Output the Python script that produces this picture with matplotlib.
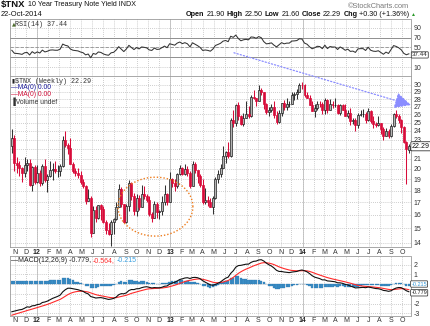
import datetime as dt
import numpy as np
import matplotlib
matplotlib.use("Agg")
import matplotlib.pyplot as plt
import matplotlib.dates as mdates

# ---------------- data (TNX = 10-year yield x 10), weekly bars ----------------
first_week = dt.date(2011, 10, 24)          # Monday of first visible weekly bar

opens = [22.3, 23.2, 20.6, 20.4, 20.1, 19.6, 20.4, 20.6, 18.5, 20.2,
         18.8, 19.6, 18.7, 20.3, 18.9, 19.3, 19.9, 20.0, 19.8, 19.8,
         20.3, 23.0, 22.4, 22.1, 20.5, 19.8, 19.6, 19.4, 18.8, 18.4,
         17.1, 17.4, 14.7, 16.4, 15.8, 16.8, 16.5, 15.5, 14.9, 14.6,
         15.5, 15.7, 16.6, 18.1, 16.9, 15.5, 16.7, 18.7, 17.5, 16.3,
         17.4, 16.6, 17.7, 17.5, 17.2, 16.1, 15.8, 16.9, 16.2, 16.3,
         17.0, 17.7, 17.0, 19.0, 18.7, 18.4, 19.5, 20.1, 19.5, 20.0,
         19.6, 18.4, 20.5, 19.9, 19.3, 18.5, 17.0, 17.2, 17.0, 16.6,
         17.4, 19.0, 19.5, 20.1, 21.3, 21.7, 21.3, 25.3, 24.9, 27.2,
         25.8, 24.8, 25.6, 26.0, 25.8, 28.3, 28.2, 27.8, 29.3, 28.9,
         27.3, 26.3, 26.5, 26.9, 25.9, 25.1, 26.2, 27.5, 27.0, 27.4,
         27.4, 28.6, 28.7, 28.9, 30.0, 29.9, 28.6, 28.2, 27.2, 26.4,
         26.8, 27.4, 27.3, 26.5, 27.9, 26.5, 27.4, 27.2, 27.2, 26.2,
         27.2, 26.6, 25.8, 26.2, 25.2, 25.3, 24.7, 25.9, 26.0, 26.0,
         25.3, 26.4, 25.2, 24.8, 24.7, 24.9, 24.2, 23.4, 24.0, 23.4,
         24.6, 26.1, 25.8, 25.3, 24.5, 22.8, 21.90]
highs = [24.2, 23.5, 21.2, 20.8, 20.2, 21.2, 21.0, 21.0, 20.3, 20.4,
         20.4, 19.9, 20.5, 21.0, 19.5, 20.8, 20.6, 20.8, 20.4, 20.5,
         23.4, 24.0, 22.7, 23.2, 20.7, 20.1, 20.1, 19.8, 19.0, 18.5,
         18.1, 17.5, 16.7, 16.7, 16.8, 16.9, 16.7, 15.6, 15.4, 15.6,
         15.8, 17.0, 18.6, 18.3, 16.9, 16.9, 18.9, 18.8, 17.8, 17.7,
         17.6, 18.5, 18.4, 17.7, 17.5, 16.2, 17.1, 17.0, 16.4, 17.5,
         18.5, 17.8, 19.7, 19.1, 19.0, 19.6, 20.4, 20.2, 20.5, 20.3,
         19.8, 20.8, 20.7, 19.9, 19.5, 19.0, 18.2, 17.5, 17.4, 17.5,
         19.2, 19.9, 20.5, 22.3, 21.8, 22.8, 25.5, 26.6, 27.4, 27.6,
         25.9, 26.2, 27.7, 27.1, 28.6, 29.3, 28.2, 30.0, 29.6, 28.9,
         27.5, 26.9, 27.4, 27.8, 26.4, 26.5, 27.5, 27.9, 28.2, 27.7,
         29.0, 29.0, 29.4, 30.3, 30.4, 30.1, 29.0, 28.6, 27.7, 27.4,
         27.7, 27.7, 27.6, 28.1, 28.0, 28.0, 27.8, 28.2, 27.4, 27.3,
         27.3, 27.3, 26.6, 26.8, 25.6, 25.5, 26.2, 26.6, 26.7, 26.3,
         26.8, 26.5, 25.8, 25.1, 25.8, 25.0, 24.5, 24.4, 24.2, 24.8,
         26.2, 26.5, 26.0, 25.4, 24.6, 22.9, 22.50]
lows = [21.6, 19.8, 19.6, 19.3, 18.8, 19.2, 19.8, 18.4, 18.0, 18.6,
        18.7, 18.4, 18.5, 18.8, 17.9, 19.2, 18.9, 19.6, 19.2, 19.3,
        20.2, 22.2, 21.5, 20.5, 19.6, 19.3, 19.1, 18.6, 18.2, 16.9,
        17.1, 14.4, 14.7, 15.5, 15.7, 15.6, 15.4, 14.6, 14.5, 13.8,
        14.6, 15.6, 16.6, 16.6, 15.4, 15.4, 16.3, 17.2, 16.0, 15.9,
        16.4, 16.6, 17.3, 17.0, 15.9, 15.5, 15.8, 15.8, 15.7, 16.0,
        16.8, 16.8, 17.0, 18.3, 18.0, 18.2, 19.4, 19.4, 19.4, 19.3,
        18.2, 18.4, 19.6, 18.7, 18.3, 16.9, 16.9, 16.7, 16.6, 16.1,
        17.3, 18.7, 19.2, 20.1, 20.6, 21.1, 21.2, 24.5, 24.6, 25.3,
        24.7, 24.6, 25.6, 25.6, 25.7, 28.0, 27.1, 27.7, 28.6, 26.7,
        26.0, 25.8, 26.3, 25.6, 24.8, 24.9, 25.8, 26.5, 26.5, 27.0,
        27.4, 27.9, 28.0, 28.9, 29.4, 28.3, 28.2, 27.2, 26.4, 25.7,
        26.6, 27.0, 26.1, 26.0, 26.2, 26.5, 26.8, 27.0, 26.1, 25.9,
        26.5, 25.8, 25.6, 24.7, 24.8, 24.0, 24.4, 25.8, 25.7, 25.0,
        25.2, 25.0, 24.4, 24.5, 24.6, 23.6, 23.0, 23.4, 23.2, 23.3,
        24.5, 25.5, 24.9, 23.8, 22.7, 18.6, 21.60]
closes = [23.2, 20.6, 20.4, 20.1, 19.6, 20.4, 20.6, 18.5, 20.2, 18.8,
          19.6, 18.7, 20.3, 18.9, 19.3, 19.9, 20.0, 19.8, 19.8, 20.3,
          23.0, 22.4, 22.1, 20.5, 19.8, 19.6, 19.4, 18.8, 18.4, 17.1,
          17.4, 14.7, 16.4, 15.8, 16.8, 16.5, 15.5, 14.9, 14.6, 15.5,
          15.7, 16.6, 18.1, 16.9, 15.5, 16.7, 18.7, 17.5, 16.3, 17.4,
          16.6, 17.7, 17.5, 17.2, 16.1, 15.8, 16.9, 16.2, 16.3, 17.0,
          17.7, 17.0, 19.0, 18.7, 18.4, 19.5, 20.1, 19.5, 20.0, 19.6,
          18.4, 20.5, 19.9, 19.3, 18.5, 17.0, 17.2, 17.0, 16.6, 17.4,
          19.0, 19.5, 20.1, 21.3, 21.7, 21.3, 25.3, 24.9, 27.2, 25.8,
          24.8, 25.6, 26.0, 25.8, 28.3, 28.2, 27.8, 29.3, 28.9, 27.3,
          26.3, 26.5, 26.9, 25.9, 25.1, 26.2, 27.5, 27.0, 27.4, 27.4,
          28.6, 28.7, 28.9, 30.0, 29.9, 28.6, 28.2, 27.2, 26.4, 26.8,
          27.4, 27.3, 26.5, 27.9, 26.5, 27.4, 27.2, 27.2, 26.2, 27.2,
          26.6, 25.8, 26.2, 25.2, 25.3, 24.7, 25.9, 26.0, 26.0, 25.3,
          26.4, 25.2, 24.8, 24.7, 24.9, 24.2, 23.4, 24.0, 23.4, 24.6,
          26.1, 25.8, 25.3, 24.5, 22.8, 21.99, 22.29]
# weekly closes Jan-Oct 2011, before the first visible bar (indicator warm-up)
warmup_closes = [33.2, 33.2, 34.0, 33.3, 36.4, 36.3, 35.8, 34.2, 34.9, 34.0,
                 32.7, 34.4, 34.5, 35.8, 34.1, 33.9, 32.9, 31.5, 31.7, 31.5,
                 30.7, 29.9, 29.9, 29.4, 28.7, 31.8, 30.3, 29.1, 29.6, 28.0,
                 25.6, 22.4, 20.7, 21.9, 20.2, 19.2, 20.6, 18.4, 19.2, 20.8,
                 22.4, 22.2]

month_labels = ["N", "D", "12", "F", "M", "A", "M", "J", "J", "A", "S", "O",
                "N", "D", "13", "F", "M", "A", "M", "J", "J", "A", "S", "O",
                "N", "D", "14", "F", "M", "A", "M", "J", "J", "A", "S", "O"]
first_label_month = (2011, 11)

main_ticks = list(range(14, 31))
main_hidden = [22]            # tick label hidden behind the last-value tag
rsi_ticks = [10, 30, 50, 70, 90]
rsi_hidden = [30]
macd_ticks = [-3, -2, -1, 0, 1, 2]
macd_hidden = [-1, 0]

last_close_tag = "22.29"
rsi_tag = "37.44"
macd_tags = ["-0.215", "-0.779"]
macd_tag_values = [-0.215, -0.779]

# annotations drawn on the chart (date, yield)
trend_start = (dt.date(2013, 6, 26), 35.0)
trend_end = (dt.date(2014, 10, 26), 27.2)
ellipse_center_date = dt.date(2012, 11, 22)
ellipse_half_days = 103
ellipse_top, ellipse_bottom = 19.2, 14.45

# ---------------- indicators ----------------
all_c = np.array(warmup_closes + closes, dtype=float)
nvis = len(closes)


def ema(vals, n):
    out = np.full(len(vals), np.nan)
    valid = np.where(~np.isnan(vals))[0]
    s = valid[0]
    out[s + n - 1] = np.mean(vals[s:s + n])
    k = 2.0 / (n + 1)
    for i in range(s + n, len(vals)):
        out[i] = vals[i] * k + out[i - 1] * (1 - k)
    return out


macd = ema(all_c, 12) - ema(all_c, 26)
signal = ema(macd, 9)
hist = macd - signal

d = np.diff(all_c)
g = np.clip(d, 0, None)
lo = np.clip(-d, 0, None)
rsi = np.full(len(all_c), np.nan)
ag, al = g[:14].mean(), lo[:14].mean()
rsi[14] = 100 - 100 / (1 + ag / al)
for i in range(14, len(d)):
    ag = (ag * 13 + g[i]) / 14
    al = (al * 13 + lo[i]) / 14
    rsi[i + 1] = 100 - 100 / (1 + ag / al) if al > 0 else 100

macd_v, sig_v, hist_v, rsi_v = macd[-nvis:], signal[-nvis:], hist[-nvis:], rsi[-nvis:]

# ---------------- figure ----------------
W, H = 430, 326
fig = plt.figure(figsize=(W / 100, H / 100), dpi=100)
fig.patch.set_facecolor("white")
SANS = ["Liberation Sans", "DejaVu Sans"]
MONO = ["Liberation Mono", "DejaVu Sans Mono"]
plt.rcParams["font.family"] = SANS


def frac_box(top_px, bottom_px, left_px=10, right_px=410.5):
    return [left_px / W, 1 - bottom_px / H, (right_px - left_px) / W, (bottom_px - top_px) / H]


ax_rsi = fig.add_axes(frac_box(19, 75.5))
ax = fig.add_axes(frac_box(76, 247))
ax_m = fig.add_axes(frac_box(256, 316))

weeks = [first_week + dt.timedelta(days=7 * i) for i in range(nvis)]
x = mdates.date2num(weeks)
xl = (mdates.date2num(dt.date(2011, 10, 19)), mdates.date2num(dt.date(2014, 10, 24)) + 0.5)

# month ticks
mstarts = []
yy, mm = first_label_month
for _ in month_labels:
    mstarts.append(dt.date(yy, mm, 1))
    mm += 1
    if mm > 12:
        mm, yy = 1, yy + 1
mx = mdates.date2num(mstarts)
year_x = [mdates.date2num(m) for m, lab in zip(mstarts, month_labels) if len(lab) == 2]

GRID = dict(color="#bdbdbd", linewidth=0.6, linestyle=(0, (1, 1.5)))
for a in (ax_rsi, ax, ax_m):
    a.set_xlim(*xl)
    a.set_xticks(mx)
    a.grid(True, which="major", **GRID)
    a.set_axisbelow(True)
    for yx in year_x:
        a.axvline(yx, color="#c8c8c8", linewidth=0.7, zorder=0.5)
    for s in a.spines.values():
        s.set_color("#9a9a9a")
        s.set_linewidth(0.6)
    a.yaxis.tick_right()
    a.tick_params(axis="y", length=0, pad=2.2, labelsize=5, labelcolor="#333333")
    a.tick_params(axis="x", length=0, labelsize=5, labelcolor="#333333")

ax_rsi.set_xticklabels([])
for a, pad in ((ax, 1.6), (ax_m, 0.9)):
    a.set_xticklabels(month_labels)
    a.tick_params(axis="x", pad=pad)
    for t, lab in zip(a.get_xticklabels(), month_labels):
        if len(lab) == 2:
            t.set_fontweight("bold")
            t.set_color("#222222")


def tick_texts(ticks, hidden):
    return ["" if v in hidden else str(v) for v in ticks]


# ---------- RSI panel ----------
ax_rsi.set_ylim(-7, 108)
ax_rsi.set_yticks(rsi_ticks)
ax_rsi.set_yticklabels(tick_texts(rsi_ticks, rsi_hidden))
ax_rsi.axhline(70, color="#8f8f8f", lw=0.7, zorder=1)
ax_rsi.axhline(30, color="#8f8f8f", lw=0.7, zorder=1)
ax_rsi.axhline(50, color="#8f8f8f", lw=0.6, ls=(0, (4, 2)), zorder=1)
ax_rsi.plot(x, rsi_v, color="#333333", lw=0.75, zorder=3)
ax_rsi.annotate(rsi_tag, xy=(1.0, float(rsi_tag)), xycoords=("axes fraction", "data"),
                xytext=(1.0, -0.9), textcoords="offset points", ha="left", va="center",
                fontsize=4.4, color="#222222", annotation_clip=False,
                bbox=dict(boxstyle="round,pad=0.1", fc="white", ec="#222222", lw=0.5), zorder=10)
ax_rsi.text(0.004, 0.95, "\u25B2", transform=ax_rsi.transAxes, fontsize=3.6, color="#4c6b2a",
            va="top", ha="left", family=["DejaVu Sans"])
ax_rsi.text(0.013, 0.965, "RSI(14) " + rsi_tag, transform=ax_rsi.transAxes, fontsize=4.9,
            color="#333333", va="top", ha="left", family=MONO)

# ---------- main price panel ----------
ax.set_yscale("log")
ax.set_ylim(13.71, 31.29)
ax.yaxis.set_major_locator(matplotlib.ticker.FixedLocator(main_ticks))
ax.yaxis.set_minor_locator(matplotlib.ticker.NullLocator())
ax.set_yticklabels(tick_texts(main_ticks, main_hidden))
ax.yaxis.set_minor_formatter(matplotlib.ticker.NullFormatter())

o, h, l, c = (np.array(v, dtype=float) for v in (opens, highs, lows, closes))
up = c >= o
RED = "#d80c3a"
ax.vlines(x[up], l[up], h[up], color="#333333", lw=0.75, zorder=3)
ax.vlines(x[~up], l[~up], h[~up], color=RED, lw=0.75, zorder=3)
ax.bar(x[up], c[up] - o[up], bottom=o[up], width=5.4, facecolor="#b4b4b4",
       edgecolor="#1e1e1e", linewidth=0.5, zorder=4)
ax.bar(x[~up], o[~up] - c[~up], bottom=c[~up], width=5.4, facecolor=RED,
       edgecolor=RED, linewidth=0.5, zorder=4)

ax.annotate(last_close_tag, xy=(1.0, closes[-1]), xycoords=("axes fraction", "data"),
            xytext=(1.0, 0), textcoords="offset points", ha="left", va="center",
            fontsize=5.0, color="#111111", annotation_clip=False,
            bbox=dict(boxstyle="round,pad=0.15", fc="white", ec="#222222", lw=0.55), zorder=10)

# legend texts
ax.text(0.004, 0.985, "\u25AE", transform=ax.transAxes, fontsize=4, color="#222222",
        va="top", ha="left", family=["DejaVu Sans"])
ax.text(0.013, 0.99, "$TNX (Weekly) " + last_close_tag, transform=ax.transAxes, fontsize=4.9,
        color="#333333", va="top", ha="left", family=MONO)
ax.text(0.003, 0.952, "\u2014MA(0) 0.00", transform=ax.transAxes, fontsize=4.9,
        color="#1a1a99", va="top", ha="left")
ax.text(0.003, 0.913, "\u2014MA(0) 0.00", transform=ax.transAxes, fontsize=4.9,
        color="#d0103a", va="top", ha="left")
ax.text(0.003, 0.872, "\u2590Volume undef", transform=ax.transAxes, fontsize=4.9,
        color="#333333", va="top", ha="left", family=SANS)

# orange dotted ellipse
t = np.linspace(0, 2 * np.pi, 200)
ec_num = mdates.date2num(ellipse_center_date)
lc = 0.5 * (np.log10(ellipse_top) + np.log10(ellipse_bottom))
lr = 0.5 * (np.log10(ellipse_top) - np.log10(ellipse_bottom))
ax.plot(ec_num + ellipse_half_days * np.cos(t), 10 ** (lc + lr * np.sin(t)),
        color="#ee7d1e", lw=1.0, ls=(0, (1, 1.4)), zorder=6)

# blue dotted trend arrow
ax.annotate("", xy=(mdates.date2num(trend_end[0]), trend_end[1]),
            xytext=(mdates.date2num(trend_start[0]), trend_start[1]),
            xycoords="data", annotation_clip=False,
            arrowprops=dict(arrowstyle="-|>,head_length=1.0,head_width=0.5", color="#8a8cff",
                            lw=0.9, linestyle=(0, (1, 1.6)), shrinkA=0, shrinkB=0,
                            mutation_scale=10), zorder=7)

# ---------- MACD panel ----------
ax_m.set_ylim(-3.278, 2.895)
ax_m.set_yticks(macd_ticks)
ax_m.set_yticklabels(tick_texts(macd_ticks, macd_hidden))
ax_m.bar(x, hist_v, width=6.2, color="#3a8ec6", edgecolor="#2a70a8", linewidth=0.2, zorder=2)
ax_m.plot(x, sig_v, color="#ff2a2a", lw=0.8, zorder=3)
ax_m.plot(x, macd_v, color="#111111", lw=0.8, zorder=4)
for tag, val, col, dy in zip(macd_tags, macd_tag_values, ["#3a9ad8", "#222222"], [1.6, -0.8]):
    ax_m.annotate(tag, xy=(1.0, val), xycoords=("axes fraction", "data"),
                  xytext=(0.6, dy), textcoords="offset points", ha="left", va="center",
                  fontsize=4.0, color=col, annotation_clip=False,
                  bbox=dict(boxstyle="round,pad=0.12", fc="white", ec="#222222", lw=0.5), zorder=10)

# ---------- rich text helper ----------
renderer = fig.canvas.get_renderer()


def text_width(s, **kw):
    tt = fig.text(0, 0, s, **kw)
    w = tt.get_window_extent(renderer).width
    tt.remove()
    return w


def pieces(x0, ypx, parts, base_kw):
    xp = x0
    for s, kw in parts:
        k = dict(base_kw)
        k.update(kw)
        core = s.strip(" ")
        lead = len(s) - len(s.lstrip(" "))
        trail = len(s) - len(s.rstrip(" "))
        sp = text_width("a a", **k) - text_width("aa", **k)
        xp += lead * sp
        fig.text(xp / W, 1 - ypx / H, core, va="center", ha="left", **k)
        xp += text_width(core, **k) + trail * sp
    return xp


pieces(1, 5, [("$TNX", dict(fontweight="bold", fontsize=6.8)),
              (" 10 Year Treasury Note Yield INDX", dict(fontsize=5.1))],
       dict(color="#111111"))
fig.text(409 / W, 1 - 6 / H, "\u00A9StockCharts.com", ha="right", va="center",
         fontsize=5.3, color="#7a7a7a")
fig.text(1 / W, 1 - 14.5 / H, "22-Oct-2014", ha="left", va="center", fontsize=5.4, color="#111111")
B = dict(fontweight="bold")
N = dict()
pieces(186, 14.5, [("Open", B), (" 21.90 ", N), ("High", B), (" 22.50 ", N), ("Low", B),
                   (" 21.60 ", N), ("Close", B), (" 22.29 ", N), ("Chg", B),
                   (" +0.30 (+1.36%) ", N), ("\u25B2", dict(color="#2a9a2a", fontsize=3.6))],
       dict(fontsize=5.2, color="#111111", family=SANS))
pieces(11, 261, [("\u2014", dict(color="#111111")), ("MACD(12,26,9) -0.779, ", dict(color="#222222")),
                 ("-0.564, ", dict(color="#ff3030")), ("-0.215", dict(color="#3aa0e0"))],
       dict(fontsize=5.0, family=SANS))

fig.savefig("out.png", dpi=100, facecolor="white")
